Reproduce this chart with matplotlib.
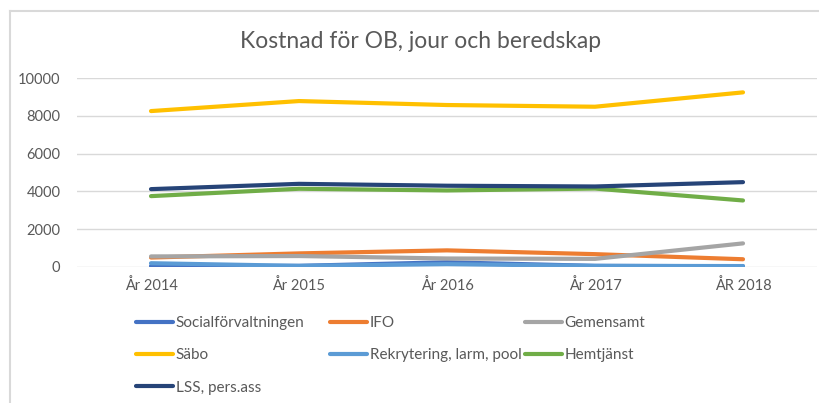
import matplotlib
matplotlib.use("Agg")
import matplotlib.pyplot as plt
from matplotlib.lines import Line2D

plt.rcParams['font.family'] = ['Lato', 'DejaVu Sans']

categories = ["År 2014", "År 2015", "År 2016", "År 2017", "ÅR 2018"]
socialforvaltningen = [50, 60, 250, 60, 40]
ifo = [500, 720, 880, 680, 410]
gemensamt = [560, 580, 450, 430, 1250]
sabo = [8250, 8780, 8570, 8480, 9240]
rekrytering = [200, 60, 150, 60, 50]
hemtjanst = [3750, 4140, 4050, 4150, 3520]
lss = [4120, 4400, 4300, 4260, 4490]

series = [
    ("Socialförvaltningen", socialforvaltningen, "#4472C4"),
    ("IFO", ifo, "#ED7D31"),
    ("Gemensamt", gemensamt, "#A5A5A5"),
    ("Säbo", sabo, "#FFC000"),
    ("Rekrytering, larm, pool", rekrytering, "#5B9BD5"),
    ("Hemtjänst", hemtjanst, "#70AD47"),
    ("LSS, pers.ass", lss, "#264478"),
]

fig = plt.figure(figsize=(8.2, 4.03), dpi=100)
# chart border (top and left visible)
fig.add_artist(Line2D([10/820, 10/820], [0, 1 - 11/403], transform=fig.transFigure,
                      color="#D9D9D9", lw=1.5))
fig.add_artist(Line2D([10/820, 1], [1 - 11/403, 1 - 11/403], transform=fig.transFigure,
                      color="#D9D9D9", lw=1.5))

ax = fig.add_axes([77/820, 1 - 267/403, 740/820, (267 - 78)/403])
x = list(range(len(categories)))
handles = {}
for name, vals, col in series:
    h, = ax.plot(x, vals, color=col, lw=3, solid_capstyle="round", label=name)
    handles[name] = h

ax.set_xlim(-0.5, len(categories) - 0.5)
ax.set_ylim(0, 10000)
ax.set_yticks([0, 2000, 4000, 6000, 8000, 10000])
ax.set_xticks(x)
ax.set_xticklabels(categories)
ax.grid(axis="y", color="#D9D9D9", lw=1)
ax.set_axisbelow(True)
for s in ax.spines.values():
    s.set_visible(False)
ax.tick_params(axis="both", length=0, colors="#595959", labelsize=10.5)
ax.tick_params(axis="y", pad=12)
ax.tick_params(axis="x", pad=8)

fig.text(0.513, 1 - 42/403, "Kostnad för OB, jour och beredskap", ha="center", va="center",
         fontsize=16.5, color="#595959")

legend_columns = [
    (136, ["Socialförvaltningen", "Säbo", "LSS, pers.ass"]),
    (330, ["IFO", "Rekrytering, larm, pool"]),
    (525, ["Gemensamt", "Hemtjänst"]),
]
for xpix, names in legend_columns:
    leg = fig.legend([handles[n] for n in names], names, ncol=1,
                     loc="upper left", bbox_to_anchor=(xpix/820, 1 - 316/403),
                     frameon=False, fontsize=11, handlelength=2.4, handletextpad=0.2,
                     labelspacing=1.2, borderaxespad=0, borderpad=0)
    for t in leg.get_texts():
        t.set_color("#595959")

fig.savefig("out.png", dpi=100)
